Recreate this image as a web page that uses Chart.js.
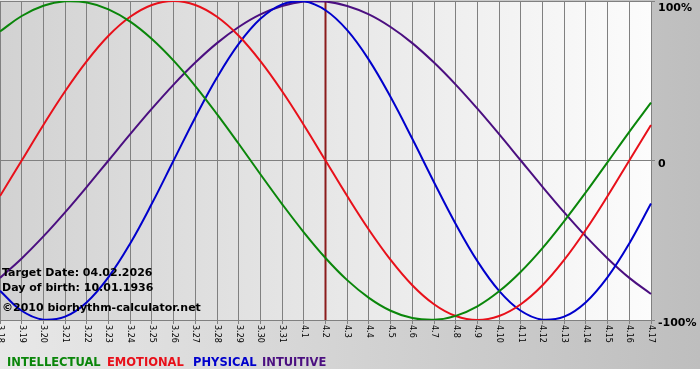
<!DOCTYPE html>
<html>
<head>
<meta charset="utf-8">
<script src="https://cdn.jsdelivr.net/npm/chart.js@4"></script>
<style>
  body { margin: 0; background: #fff; }
  #wrap { position: relative; width: 700px; height: 380px; }
  .lg { position: absolute; top: 355px; font: bold 11.5px "DejaVu Sans", Verdana, sans-serif; white-space: nowrap; }
</style>
</head>
<body>
<div id="wrap">
  <canvas id="bio-chart" width="700" height="380"></canvas>
  <div class="lg" style="left:7px;color:#0a860a">INTELLECTUAL</div>
  <div class="lg" style="left:107px;color:#e8101a">EMOTIONAL</div>
  <div class="lg" style="left:193px;color:#0000cc">PHYSICAL</div>
  <div class="lg" style="left:262px;color:#4b0f80">INTUITIVE</div>
</div>
<script>
// days shown on the x axis (month.day)
const dayLabels = [
  '3.18', '3.19', '3.20', '3.21', '3.22', '3.23', '3.24', '3.25', '3.26', '3.27',
  '3.28', '3.29', '3.30', '3.31', '4.1', '4.2', '4.3', '4.4', '4.5', '4.6',
  '4.7', '4.8', '4.9', '4.10', '4.11', '4.12', '4.13', '4.14', '4.15', '4.16', '4.17',
];
const todayLabel = '4.2';

// cycle values in %
const intellectual = [80.9, 90.6, 97.0, 99.8, 99.1, 94.8, 87.1, 76.2, 62.6, 46.7, 29.1,
  10.5, -8.6, -27.3, -45.0, -61.1, -75.0, -86.1, -94.2, -98.8, -99.9, -97.4, -91.4,
  -82.0, -69.7, -54.9, -38.0, -19.9, -1.0, 18.0, 36.3];
const emotional = [-22.3, 0, 22.3, 43.4, 62.3, 78.2, 90.1, 97.5, 100, 97.5, 90.1, 78.2,
  62.3, 43.4, 22.3, 0, -22.3, -43.4, -62.3, -78.2, -90.1, -97.5, -100, -97.5, -90.1,
  -78.2, -62.3, -43.4, -22.3, 0, 22.3];
const physical = [-81.7, -94.2, -99.8, -97.9, -88.8, -73.1, -52.0, -27.0, 0, 27.0, 52.0,
  73.1, 88.8, 97.9, 99.8, 94.2, 81.7, 63.1, 39.8, 13.6, -13.6, -39.8, -63.1, -81.7,
  -94.2, -99.8, -97.9, -88.8, -73.1, -52.0, -27.0];
const intuitive = [-73.6, -61.4, -47.6, -32.5, -16.5, 0, 16.5, 32.5, 47.6, 61.4, 73.6,
  83.7, 91.6, 96.9, 99.7, 99.7, 96.9, 91.6, 83.7, 73.6, 61.4, 47.6, 32.5, 16.5, 0,
  -16.5, -32.5, -47.6, -61.4, -73.6, -83.7];

const yTicks = [100, 0, -100];
const yTickText = ['100%', '0', '-100%'];
const infoLines = ['Target Date: 04.02.2026', 'Day of birth: 10.01.1936', '\u00a92010 biorhythm-calculator.net'];

const GRID = '#808080';

// backgrounds: grey frame + lighter gradient inside the plot
const bgPlugin = {
  id: 'bg',
  beforeDraw(chart) {
    const { ctx, chartArea: a, width, height } = chart;
    ctx.save();
    ctx.fillStyle = '#ffffff';
    ctx.fillRect(0, 0, width, height);
    const g = ctx.createLinearGradient(0, 0, width, 0);
    g.addColorStop(0, '#e8e8e8');
    g.addColorStop(1, '#bebebe');
    ctx.fillStyle = g;
    ctx.fillRect(0, 0, width, 369);
    const g2 = ctx.createLinearGradient(a.left, 0, a.right, 0);
    g2.addColorStop(0, '#d2d2d2');
    g2.addColorStop(1, '#fcfcfc');
    ctx.fillStyle = g2;
    ctx.fillRect(a.left, a.top, a.right - a.left, a.bottom - a.top);
    ctx.restore();
  },
  beforeDatasetsDraw(chart) {
    // marker for the target day
    const { ctx, chartArea: a } = chart;
    const x = chart.scales.x.getPixelForValue(dayLabels.indexOf(todayLabel));
    ctx.save();
    ctx.strokeStyle = '#8b1c1c';
    ctx.lineWidth = 2;
    ctx.beginPath();
    ctx.moveTo(x, a.top);
    ctx.lineTo(x, a.bottom);
    ctx.stroke();
    ctx.restore();
  },
};

// tick labels (x ones read top-to-bottom) and the info text
const textPlugin = {
  id: 'texts',
  afterDraw(chart) {
    const { ctx, chartArea: a } = chart;
    const xs = chart.scales.x, ys = chart.scales.y;
    ctx.save();
    ctx.fillStyle = '#000';
    ctx.font = '8px "DejaVu Sans", Verdana, sans-serif';
    ctx.textAlign = 'left';
    ctx.textBaseline = 'middle';
    dayLabels.forEach((lab, i) => {
      ctx.save();
      ctx.translate(xs.getPixelForValue(i), a.bottom + 5);
      ctx.rotate(Math.PI / 2);
      ctx.fillText(lab, 0, 0);
      ctx.restore();
    });

    ctx.font = 'bold 11px "DejaVu Sans", Verdana, sans-serif';
    ctx.textBaseline = 'alphabetic';
    yTicks.forEach((v, i) => {
      const y = Math.max(ys.getPixelForValue(v) + 6, a.top + 10);
      ctx.fillText(yTickText[i], a.right + 7, y);
    });

    ctx.fillText(infoLines[0], 2, 276);
    ctx.fillText(infoLines[1], 2, 291);
    ctx.fillText(infoLines[2], 2, 311);
    ctx.restore();
  },
};

const mkLine = (label, data, color) => ({
  label, data,
  borderColor: color,
  borderWidth: 2,
  pointRadius: 0,
  tension: 0.4,
  fill: false,
});

const ctxBio = document.getElementById('bio-chart').getContext('2d');
const bioChart = new Chart(ctxBio, {
  type: 'line',
  data: {
    labels: dayLabels,
    datasets: [
      mkLine('INTELLECTUAL', intellectual, '#0a860a'),
      mkLine('EMOTIONAL', emotional, '#e8101a'),
      mkLine('PHYSICAL', physical, '#0000cc'),
      mkLine('INTUITIVE', intuitive, '#4b0f80'),
    ],
  },
  options: {
    responsive: false,
    animation: false,
    devicePixelRatio: 1,
    layout: { padding: { top: 1, left: 0, right: 0, bottom: 0 } },
    plugins: {
      legend: { display: false },
      tooltip: { enabled: false },
    },
    scales: {
      x: {
        offset: false,
        ticks: { display: false },
        grid: { color: GRID, lineWidth: 1, tickLength: 4 },
        border: { color: GRID },
        afterFit(s) { s.height = 60; },
      },
      y: {
        position: 'right',
        min: -100,
        max: 100,
        ticks: { display: false, stepSize: 100 },
        grid: { color: GRID, lineWidth: 1, tickLength: 4 },
        border: { color: GRID },
        afterFit(s) { s.width = 49; },
      },
    },
  },
  plugins: [bgPlugin, textPlugin],
});
</script>
</body>
</html>
